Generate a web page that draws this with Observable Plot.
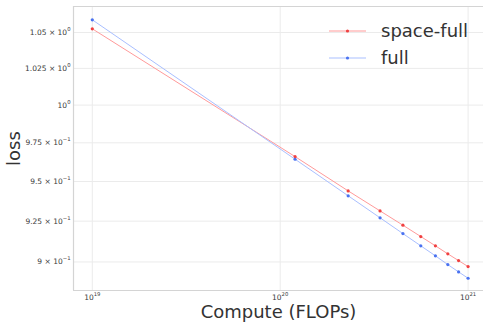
<!DOCTYPE html>
<html>
<head>
<meta charset="utf-8">
<script src="https://cdn.jsdelivr.net/npm/d3@7"></script>
<script src="https://cdn.jsdelivr.net/npm/@observablehq/plot@0.6"></script>
<style>
  html, body { margin: 0; padding: 0; background: #fff; }
  #wrap { position: relative; width: 483px; height: 324px; overflow: hidden; font-family: "DejaVu Sans", sans-serif; }
  #legend { position: absolute; left: 326px; top: 17px; }
</style>
</head>
<body>
<div id="wrap"><div id="chart"></div><svg id="legend" width="157" height="56"></svg></div>
<script>
// ---- data ----
const compute = [1e19, 1.2e20, 2.3e20, 3.4e20, 4.5e20, 5.6e20, 6.7e20, 7.8e20, 8.9e20, 1e21];
const spaceFull = [1.0526, 0.966, 0.944, 0.9314, 0.9225, 0.9155, 0.9098, 0.9049, 0.9008, 0.8972];
const full = [1.059, 0.9643, 0.9409, 0.9271, 0.9173, 0.9098, 0.9037, 0.8984, 0.8940, 0.8902];
const seriesNames = ["space-full", "full"];
const lineColors = ["#ff9a9a", "#a9bfff"];
const dotColors = ["#f04040", "#4a72f0"];
const xTicks = [1e19, 1e20, 1e21];
const xTickLabels = ["10¹⁹", "10²⁰", "10²¹"];
const yTicks = [1.05, 1.025, 1.0, 0.975, 0.95, 0.925, 0.9];
const yTickLabels = ["1.05 × 10⁰", "1.025 × 10⁰", "10⁰", "9.75 × 10⁻¹", "9.5 × 10⁻¹", "9.25 × 10⁻¹", "9 × 10⁻¹"];
const xLabel = "Compute (FLOPs)";
const yLabel = "loss";

const rows = [];
[spaceFull, full].forEach((vals, s) => vals.forEach((v, i) => rows.push({series: seriesNames[s], compute: compute[i], loss: v})));

const xDomain = [Math.pow(10, 18.9), Math.pow(10, 21.082)];
const yDomain = [0.8829, 1.0685];

const nearest = (arr, d) => arr.reduce((b, v, i) => Math.abs(Math.log(v) - Math.log(d)) < Math.abs(Math.log(arr[b]) - Math.log(d)) ? i : b, 0);

const chart = Plot.plot({
  width: 483,
  height: 324,
  marginLeft: 73,
  marginRight: 0,
  marginTop: 6,
  marginBottom: 34,
  style: {fontFamily: "DejaVu Sans, sans-serif", background: "#fff"},
  x: {type: "log", domain: xDomain},
  y: {type: "log", domain: yDomain},
  color: {domain: seriesNames, range: lineColors},
  marks: [
    Plot.gridX({ticks: xTicks, stroke: "#ebebeb", strokeOpacity: 1, strokeWidth: 1}),
    Plot.gridY({ticks: yTicks, stroke: "#ebebeb", strokeOpacity: 1, strokeWidth: 1}),
    Plot.ruleX([xDomain[0]], {stroke: "#d4d4d4", strokeWidth: 1.2}),
    Plot.ruleY([yDomain[0], yDomain[1]], {stroke: "#d4d4d4", strokeWidth: 1.2}),
    Plot.axisX({ticks: xTicks, tickFormat: (d) => xTickLabels[nearest(xTicks, d)], tickSize: 0, tickPadding: 4, fontSize: 7.5, fill: "#3a3a3a", label: null}),
    Plot.axisY({ticks: yTicks, tickFormat: (d) => yTickLabels[nearest(yTicks, d)], tickSize: 0, tickPadding: 3, fontSize: 7.5, fill: "#3a3a3a", label: null}),
    Plot.line(rows, {x: "compute", y: "loss", z: "series", stroke: "series", strokeWidth: 1}),
    Plot.dot(rows, {x: "compute", y: "loss", fill: (d) => dotColors[seriesNames.indexOf(d.series)], r: 1.6, stroke: "none"}),
    Plot.text([xLabel], {frameAnchor: "bottom", lineAnchor: "middle", textAnchor: "middle", dy: 22, fontSize: 18, fill: "#333"}),
    Plot.text([yLabel], {frameAnchor: "left", lineAnchor: "middle", textAnchor: "middle", dx: -59.5, rotate: -90, fontSize: 18, fill: "#333"})
  ]
});
document.getElementById("chart").appendChild(chart);

// render unicode superscripts as raised smaller digits (mathtext-like)
const supMap = {"⁰": "0", "¹": "1", "²": "2", "³": "3", "⁴": "4", "⁵": "5", "⁶": "6", "⁷": "7", "⁸": "8", "⁹": "9", "⁻": "−"};
d3.select(chart).selectAll("g[aria-label$='tick label'] text").each(function() {
  const t = this.textContent;
  const m = t.match(/^(.*?)([⁰¹²³⁴⁵⁶⁷⁸⁹⁻]+)$/);
  if (!m) return;
  const el = d3.select(this);
  el.text(null);
  el.append("tspan").text(m[1]);
  el.append("tspan").attr("font-size", 5.3).attr("dy", "-0.75em").text([...m[2]].map(c => supMap[c]).join(""));
});

// legend
const lg = d3.select("#legend");
seriesNames.forEach((name, i) => {
  const y = 14 + i * 27;
  lg.append("line").attr("x1", 3).attr("x2", 40).attr("y1", y).attr("y2", y).attr("stroke", lineColors[i]).attr("stroke-width", 1);
  lg.append("circle").attr("cx", 21.5).attr("cy", y).attr("r", 1.6).attr("fill", dotColors[i]);
  lg.append("text").attr("x", 55).attr("y", y).attr("dy", "0.35em").attr("font-size", 18).attr("fill", "#333").attr("font-family", "DejaVu Sans, sans-serif").text(name);
});
</script>
</body>
</html>
